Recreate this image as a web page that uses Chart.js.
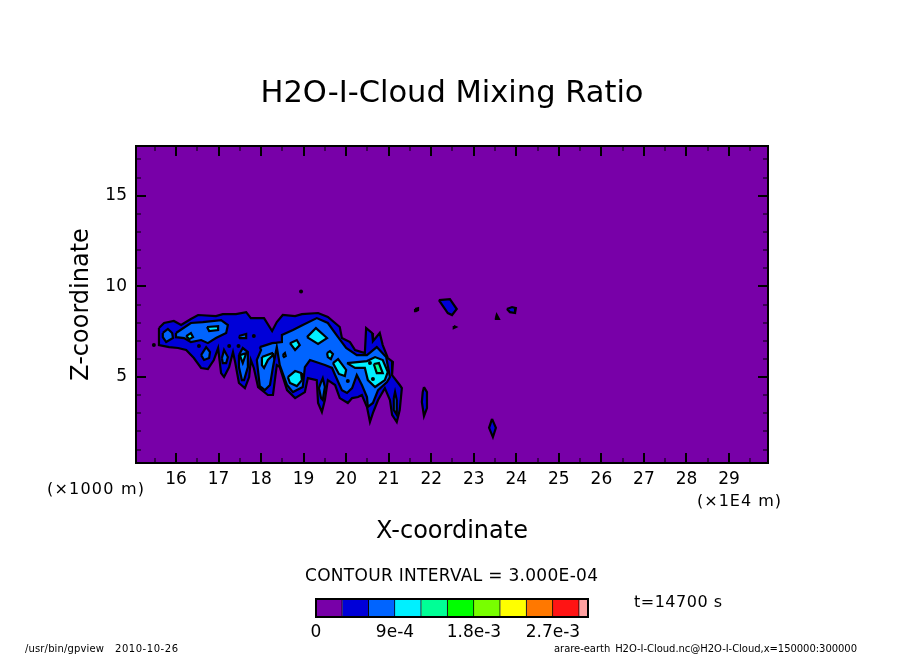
<!DOCTYPE html>
<html><head><meta charset="utf-8">
<style>html,body{margin:0;padding:0;background:#fff;width:904px;height:654px;overflow:hidden}
canvas{position:absolute;display:block}</style>
<script src="https://cdn.jsdelivr.net/npm/chart.js@4"></script>
</head><body>
<canvas id="main" width="904" height="654" style="left:0;top:0"></canvas>
<canvas id="bar" width="320" height="64" style="left:300px;top:590px"></canvas>
<script>
const titleText = 'H2O-I-Cloud Mixing Ratio';
const xAxisTitle = 'X-coordinate';
const zAxisTitle = 'Z-coordinate';
const xTickValues = [15.5,16,16.5,17,17.5,18,18.5,19,19.5,20,20.5,21,21.5,22,22.5,23,23.5,24,24.5,25,25.5,26,26.5,27,27.5,28,28.5,29,29.5];
const zTickValues = [1,2,3,4,5,6,7,8,9,10,11,12,13,14,15,16,17];
const levelValues = [3e-4,3e-4,3e-4,3e-4,3e-4,3e-4,3e-4,3e-4,3e-4,3e-4,1e-4];
const levelColors = ['#7800A8','#0000D8','#0064FF','#00F0FF','#00FF96','#00FF00','#78FF00','#FFFF00','#FF7800','#FF1414','#FFA0A0'];
const barTickValues = [0,9e-4,1.8e-3,2.7e-3];
const barTickLabels = ['0','9e-4','1.8e-3','2.7e-3'];

const level1 = [
[[15.60,7.70],[15.72,7.98],[15.95,8.09],[16.12,7.87],[16.35,8.20],[16.52,8.42],[16.94,8.36],[17.10,8.47],[17.41,8.47],[17.65,8.58],[17.76,8.25],[18.07,8.25],[18.26,7.54],[18.37,8.03],[18.51,8.42],[18.80,8.36],[18.96,8.47],[19.34,8.53],[19.57,8.31],[19.85,7.76],[19.90,7.15],[20.09,6.93],[20.21,6.49],[20.44,6.32],[20.47,7.70],[20.61,7.43],[20.63,6.98],[20.79,7.43],[20.86,6.76],[20.98,6.05],[21.10,5.83],[21.08,5.11],[21.26,4.56],[21.31,4.39],[21.26,3.18],[21.19,2.52],[21.08,2.91],[21.03,3.73],[20.91,4.39],[20.75,3.73],[20.63,3.02],[20.56,2.52],[20.49,3.35],[20.37,4.01],[20.28,3.90],[20.14,3.84],[20.04,3.57],[19.85,3.84],[19.74,4.56],[19.57,4.83],[19.50,3.73],[19.43,3.07],[19.34,3.57],[19.31,4.83],[19.10,4.94],[19.03,4.17],[18.80,3.84],[18.61,4.28],[18.44,5.55],[18.37,5.66],[18.28,4.01],[18.16,4.01],[17.93,4.45],[17.83,5.50],[17.76,5.94],[17.72,5.00],[17.62,4.39],[17.48,4.67],[17.39,5.83],[17.34,6.38],[17.25,5.55],[17.13,5.00],[17.06,5.22],[16.99,6.60],[16.89,5.94],[16.75,5.44],[16.59,5.50],[16.42,6.05],[16.24,6.49],[16.05,6.60],[15.84,6.65],[15.60,6.76]],
[[22.18,9.24],[22.44,9.30],[22.60,8.75],[22.49,8.42],[22.39,8.53]],
[[23.78,8.75],[23.90,8.86],[23.99,8.80],[23.97,8.53],[23.85,8.58]],
[[23.52,8.25],[23.54,8.42],[23.59,8.20],[23.52,8.20]],
[[21.62,8.75],[21.69,8.80],[21.69,8.69],[21.64,8.64]],
[[22.53,7.81],[22.58,7.76],[22.53,7.70]],
[[21.83,4.45],[21.90,4.17],[21.90,3.29],[21.83,2.85],[21.78,3.62],[21.80,4.17]],
[[23.43,2.69],[23.52,2.20],[23.45,1.69],[23.36,2.20]]
];
const level2 = [
[[16.00,7.43],[16.35,7.98],[16.63,8.03],[17.06,8.14],[17.22,7.87],[17.18,7.43],[16.94,7.15],[16.75,6.87],[16.59,7.04],[16.35,6.93],[16.19,7.15],[16.00,7.20]],
[[15.69,7.43],[15.81,7.65],[15.91,7.43],[15.93,7.15],[15.77,6.93],[15.69,7.20]],
[[16.59,6.21],[16.71,6.65],[16.80,6.38],[16.78,6.05],[16.66,5.94]],
[[17.08,6.05],[17.13,6.49],[17.22,6.10],[17.18,5.77],[17.10,5.77]],
[[17.48,6.21],[17.57,6.60],[17.69,6.38],[17.69,5.55],[17.60,4.83],[17.55,4.83],[17.48,5.55]],
[[17.48,7.26],[17.65,7.37],[17.65,7.15],[17.50,7.15]],
[[17.97,6.65],[18.26,6.87],[18.49,6.93],[18.49,7.32],[18.75,7.59],[18.98,7.87],[19.31,8.25],[19.57,7.98],[19.81,7.20],[20.00,6.60],[20.25,6.21],[20.49,6.21],[20.72,6.65],[20.94,6.10],[21.03,5.00],[20.96,4.72],[20.75,4.28],[20.63,3.57],[20.51,3.35],[20.49,3.90],[20.37,4.56],[20.25,5.11],[20.14,4.39],[20.02,4.12],[19.90,4.28],[19.74,5.11],[19.67,5.50],[19.50,5.66],[19.15,5.94],[19.03,5.55],[18.98,4.45],[18.75,4.17],[18.61,4.56],[18.44,5.66],[18.37,6.65],[18.28,5.55],[18.21,4.56],[18.09,4.28],[17.97,4.50],[17.90,5.94],[18.00,6.49]],
[[19.41,4.72],[19.45,4.94],[19.50,4.45],[19.45,3.73],[19.41,3.84],[19.36,4.39]],
[[21.12,3.84],[21.15,4.17],[21.19,3.73],[21.19,2.91],[21.12,3.18]]
];
const level3 = [
[[16.24,7.26],[16.35,7.43],[16.40,7.20],[16.31,7.09]],
[[16.73,7.76],[16.99,7.81],[16.99,7.59],[16.78,7.54]],
[[17.50,6.21],[17.65,6.32],[17.57,5.77]],
[[18.02,6.10],[18.26,6.32],[18.28,6.21],[18.16,5.94],[18.07,5.50],[18.02,5.66]],
[[18.68,6.87],[18.84,7.04],[18.91,6.76],[18.80,6.49]],
[[19.08,7.20],[19.29,7.70],[19.55,7.15],[19.34,6.82]],
[[18.51,6.21],[18.56,6.32],[18.58,6.16],[18.54,6.10]],
[[19.55,6.32],[19.62,6.43],[19.69,6.27],[19.64,5.99],[19.57,6.10]],
[[18.63,5.00],[18.80,5.33],[18.94,5.22],[18.96,4.83],[18.84,4.50],[18.68,4.67]],
[[19.69,5.77],[19.81,5.99],[20.00,5.39],[19.97,5.06],[19.83,5.17]],
[[20.02,5.77],[20.49,5.88],[20.68,6.10],[20.86,5.94],[20.98,5.28],[20.91,4.83],[20.68,4.45],[20.51,4.83],[20.44,5.50],[20.21,5.50]]
];
const level4 = [
[[20.65,5.72],[20.77,5.77],[20.86,5.22],[20.72,5.22]]
];
const smallSpots = [[15.48,6.76],[18.94,9.72],[17.25,6.71],[17.83,7.26],[16.54,6.71],[17.47,6.71],[20.56,5.77],[20.63,4.89],[20.04,4.78]];
const xRange = [15.06,29.917];
const zRange = [0.26,17.74];

function polyDatasets(polys, level){
  return polys.map((p,i)=>({
    label:'level'+level+'-'+i, type:'scatter', showLine:true,
    data:p.concat([p[0]]).map(q=>({x:q[0],y:q[1]})),
    fill:'shape', backgroundColor:levelColors[level], borderColor:'#000',
    borderWidth:2.2, pointRadius:0, tension:0, borderJoinStyle:'miter'
  }));
}
const datasets = [...polyDatasets(level1,1),...polyDatasets(level2,2),...polyDatasets(level3,3),...polyDatasets(level4,4),
 {label:'spots',type:'scatter',showLine:false,data:smallSpots.map(q=>({x:q[0],y:q[1]})),
  pointRadius:2,pointBackgroundColor:'#000',pointBorderWidth:0}];
datasets.forEach((d,i)=>{d.order=datasets.length-i;});

function fitText(ctx,str,left,right,cy,font){
  ctx.save();
  ctx.font=font; ctx.fillStyle='#000'; ctx.textAlign='left'; ctx.textBaseline='middle';
  ctx.letterSpacing='0px';
  const w=ctx.measureText(str).width;
  ctx.letterSpacing=((right-left-w)/(str.length-1)).toFixed(3)+'px';
  ctx.fillText(str,left,cy);
  ctx.restore();
}
const F='"DejaVu Sans"';
const backdrop={id:'backdrop',beforeDatasetsDraw(c){
  const a=c.chartArea,x=c.ctx; x.save(); x.fillStyle=levelColors[0];
  x.fillRect(a.left,a.top,a.right-a.left,a.bottom-a.top); x.restore();
}};
const frame={id:'frame',afterDatasetsDraw(c){
  const a=c.chartArea,x=c.ctx,sx=c.scales.x,sy=c.scales.y;
  x.save(); x.strokeStyle='#000'; x.lineCap='butt';
  xTickValues.forEach(v=>{const p=Math.round(sx.getPixelForValue(v)),maj=Number.isInteger(v),l=maj?10:5;
    x.lineWidth=maj?2:1; x.beginPath(); x.moveTo(p,a.top); x.lineTo(p,a.top+l); x.moveTo(p,a.bottom); x.lineTo(p,a.bottom-l); x.stroke();});
  zTickValues.forEach(v=>{const p=Math.round(sy.getPixelForValue(v)),maj=v%5===0,l=maj?10:5;
    x.lineWidth=maj?2:1; x.beginPath(); x.moveTo(a.left,p); x.lineTo(a.left+l,p); x.moveTo(a.right,p); x.lineTo(a.right-l,p); x.stroke();});
  x.lineWidth=2; x.strokeRect(a.left,a.top,a.right-a.left,a.bottom-a.top);
  x.restore();
}};
const notes={id:'notes',afterDraw(c){
  const x=c.ctx;
  fitText(x,'(×1000 m)',47,144,490,'16px '+F);
  fitText(x,'(×1E4 m)',697,781,502,'16px '+F);
  fitText(x,'CONTOUR INTERVAL = 3.000E-04',305,598,577,'17px '+F);
  fitText(x,'t=14700 s',634,722,603,'16px '+F);
  fitText(x,'/usr/bin/gpview',25,104,649,'10px '+F);
  fitText(x,'2010-10-26',115,178,649,'10px '+F);
  fitText(x,'arare-earth_H2O-I-Cloud.nc@H2O-I-Cloud,x=150000:300000',554,857,649,'10px '+F);
}};

new Chart(document.getElementById('main'),{
  type:'scatter',
  data:{datasets},
  plugins:[backdrop,frame,notes],
  options:{
    responsive:false,animation:false,devicePixelRatio:1,
    layout:{padding:0},
    plugins:{legend:{display:false},tooltip:{enabled:false},
      title:{display:true,text:titleText,color:'#000',font:{family:'DejaVu Sans',size:30.5,weight:'normal',lineHeight:1.2},padding:{top:76,bottom:33.4}}},
    scales:{
      x:{type:'linear',min:xRange[0],max:xRange[1],
        afterBuildTicks(s){s.ticks=xTickValues.map(v=>({value:v}));},
        afterFit(s){s.height=191;},
        grid:{display:false,drawTicks:false},border:{display:false},
        ticks:{autoSkip:false,maxRotation:0,padding:6,color:'#000',font:{family:'DejaVu Sans',size:17},
          callback:v=>Number.isInteger(v)?String(v):''},
        title:{display:true,text:xAxisTitle,color:'#000',font:{family:'DejaVu Sans',size:24},padding:{top:0,bottom:108}}},
      y:{type:'linear',min:zRange[0],max:zRange[1],
        afterBuildTicks(s){s.ticks=zTickValues.map(v=>({value:v}));},
        afterFit(s){s.width=136;},
        grid:{display:false,drawTicks:false},border:{display:false},
        ticks:{autoSkip:false,padding:9,color:'#000',font:{family:'DejaVu Sans',size:17},
          callback:v=>v%5===0?String(v):''},
        title:{display:true,text:zAxisTitle,color:'#000',font:{family:'DejaVu Sans',size:24},padding:{top:67.6,bottom:0}}},
      rightSpace:{type:'linear',position:'right',display:true,afterFit(s){s.width=136;},
        grid:{display:false,drawTicks:false},border:{display:false},ticks:{display:false}}
    }
  }
});

const barFrame={id:'barFrame',afterDatasetsDraw(c){
  const a=c.chartArea,x=c.ctx; x.save(); x.strokeStyle='#000'; x.lineWidth=2;
  x.strokeRect(a.left,a.top,a.right-a.left,a.bottom-a.top); x.restore();
}};
new Chart(document.getElementById('bar'),{
  type:'bar',
  data:{labels:['level'],datasets:levelValues.map((v,i)=>({label:'L'+i,data:[v],backgroundColor:levelColors[i],borderColor:'#000',borderWidth:1,barPercentage:1,categoryPercentage:1}))},
  plugins:[barFrame],
  options:{
    indexAxis:'y',responsive:false,animation:false,devicePixelRatio:1,
    layout:{padding:{left:16,right:32,top:9,bottom:0}},
    plugins:{legend:{display:false},tooltip:{enabled:false}},
    scales:{
      x:{stacked:true,min:0,max:3.1e-3,
        afterBuildTicks(s){s.ticks=barTickValues.map(v=>({value:v}));},
        afterFit(s){s.height=37;},
        grid:{display:false,drawTicks:false},border:{display:false},
        ticks:{autoSkip:false,maxRotation:0,padding:5,color:'#000',font:{family:'DejaVu Sans',size:17},
          callback:(v,i)=>barTickLabels[i]}},
      y:{stacked:true,display:false}
    }
  }
});
</script>
</body></html>
